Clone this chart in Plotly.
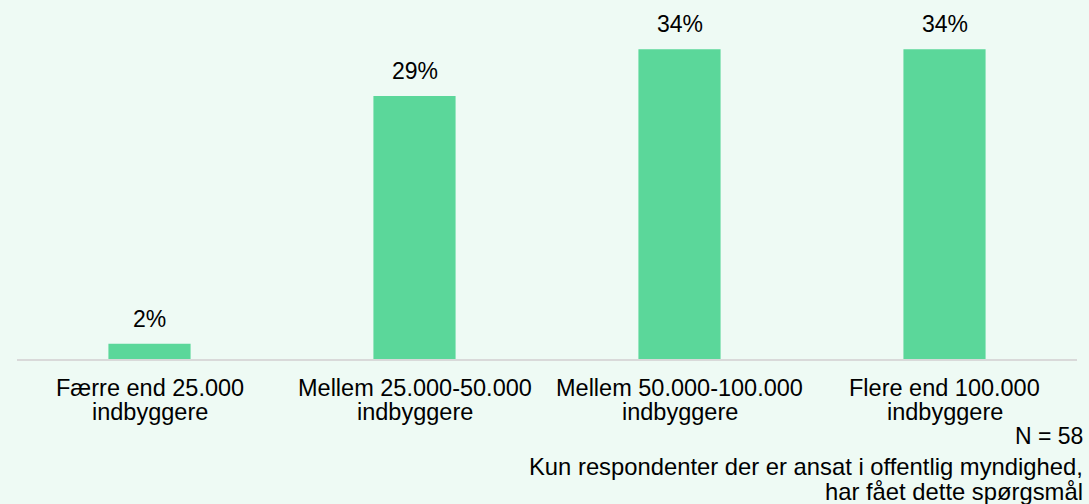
import plotly.graph_objects as go

# Survey result: share of respondents by municipality size
categories = [
    "Færre end 25.000<br>indbyggere",
    "Mellem 25.000-50.000<br>indbyggere",
    "Mellem 50.000-100.000<br>indbyggere",
    "Flere end 100.000<br>indbyggere",
]
shares = [1.7, 29.3, 34.5, 34.5]  # percent of respondents

note_n = "N = 58"
note_lines = [
    "Kun respondenter der er ansat i offentlig myndighed,",
    "har fået dette spørgsmål",
]

BG = "#EEFAF4"
BAR = "#5BD79A"
FONT = "Liberation Sans, Arial, sans-serif"
TXT = "#000000"

fig = go.Figure(
    go.Bar(
        x=categories,
        y=shares,
        marker=dict(color=BAR, line=dict(width=0)),
        hoverinfo="skip",
    )
)

# value labels above each bar
for cat, val in zip(categories, shares):
    fig.add_annotation(
        x=cat, y=val, xref="x", yref="y",
        text=f"{val:.0f}%",
        showarrow=False, yanchor="bottom", yshift=10,
        font=dict(family=FONT, size=23, color=TXT),
    )

plot_h = 359.5


def py(px):
    # convert a pixel row of the page into paper coordinates
    return (plot_h - px) / plot_h


# category labels: two tightly spaced lines under each bar
for cat in categories:
    for line, ypx in zip(cat.split("<br>"), [389, 413]):
        fig.add_annotation(
            x=cat, y=py(ypx), xref="x", yref="paper",
            text=line, showarrow=False, xanchor="center", yanchor="middle",
            font=dict(family=FONT, size=23.5, color=TXT),
        )

fig.add_annotation(
    x=1.0075, y=py(437), xref="paper", yref="paper",
    text=note_n, showarrow=False, xanchor="right", yanchor="middle",
    font=dict(family=FONT, size=23, color=TXT),
)
for line, ypx in zip(note_lines, [467, 492]):
    fig.add_annotation(
        x=1.0075, y=py(ypx), xref="paper", yref="paper",
        text=line, showarrow=False, xanchor="right", yanchor="middle",
        font=dict(family=FONT, size=23.8, color=TXT),
    )

fig.update_layout(
    width=1089, height=504,
    margin=dict(l=17, r=12, t=0, b=144.5),
    paper_bgcolor=BG, plot_bgcolor=BG,
    bargap=0.69,
    showlegend=False,
    font=dict(family=FONT, size=22, color=TXT),
    xaxis=dict(
        showline=True, linecolor="#D9D9D9", linewidth=2,
        ticks="", showgrid=False, zeroline=False,
        showticklabels=False,
    ),
    yaxis=dict(
        range=[0, 40], visible=False, showgrid=False, zeroline=False,
    ),
)

fig.write_html("out.html")
